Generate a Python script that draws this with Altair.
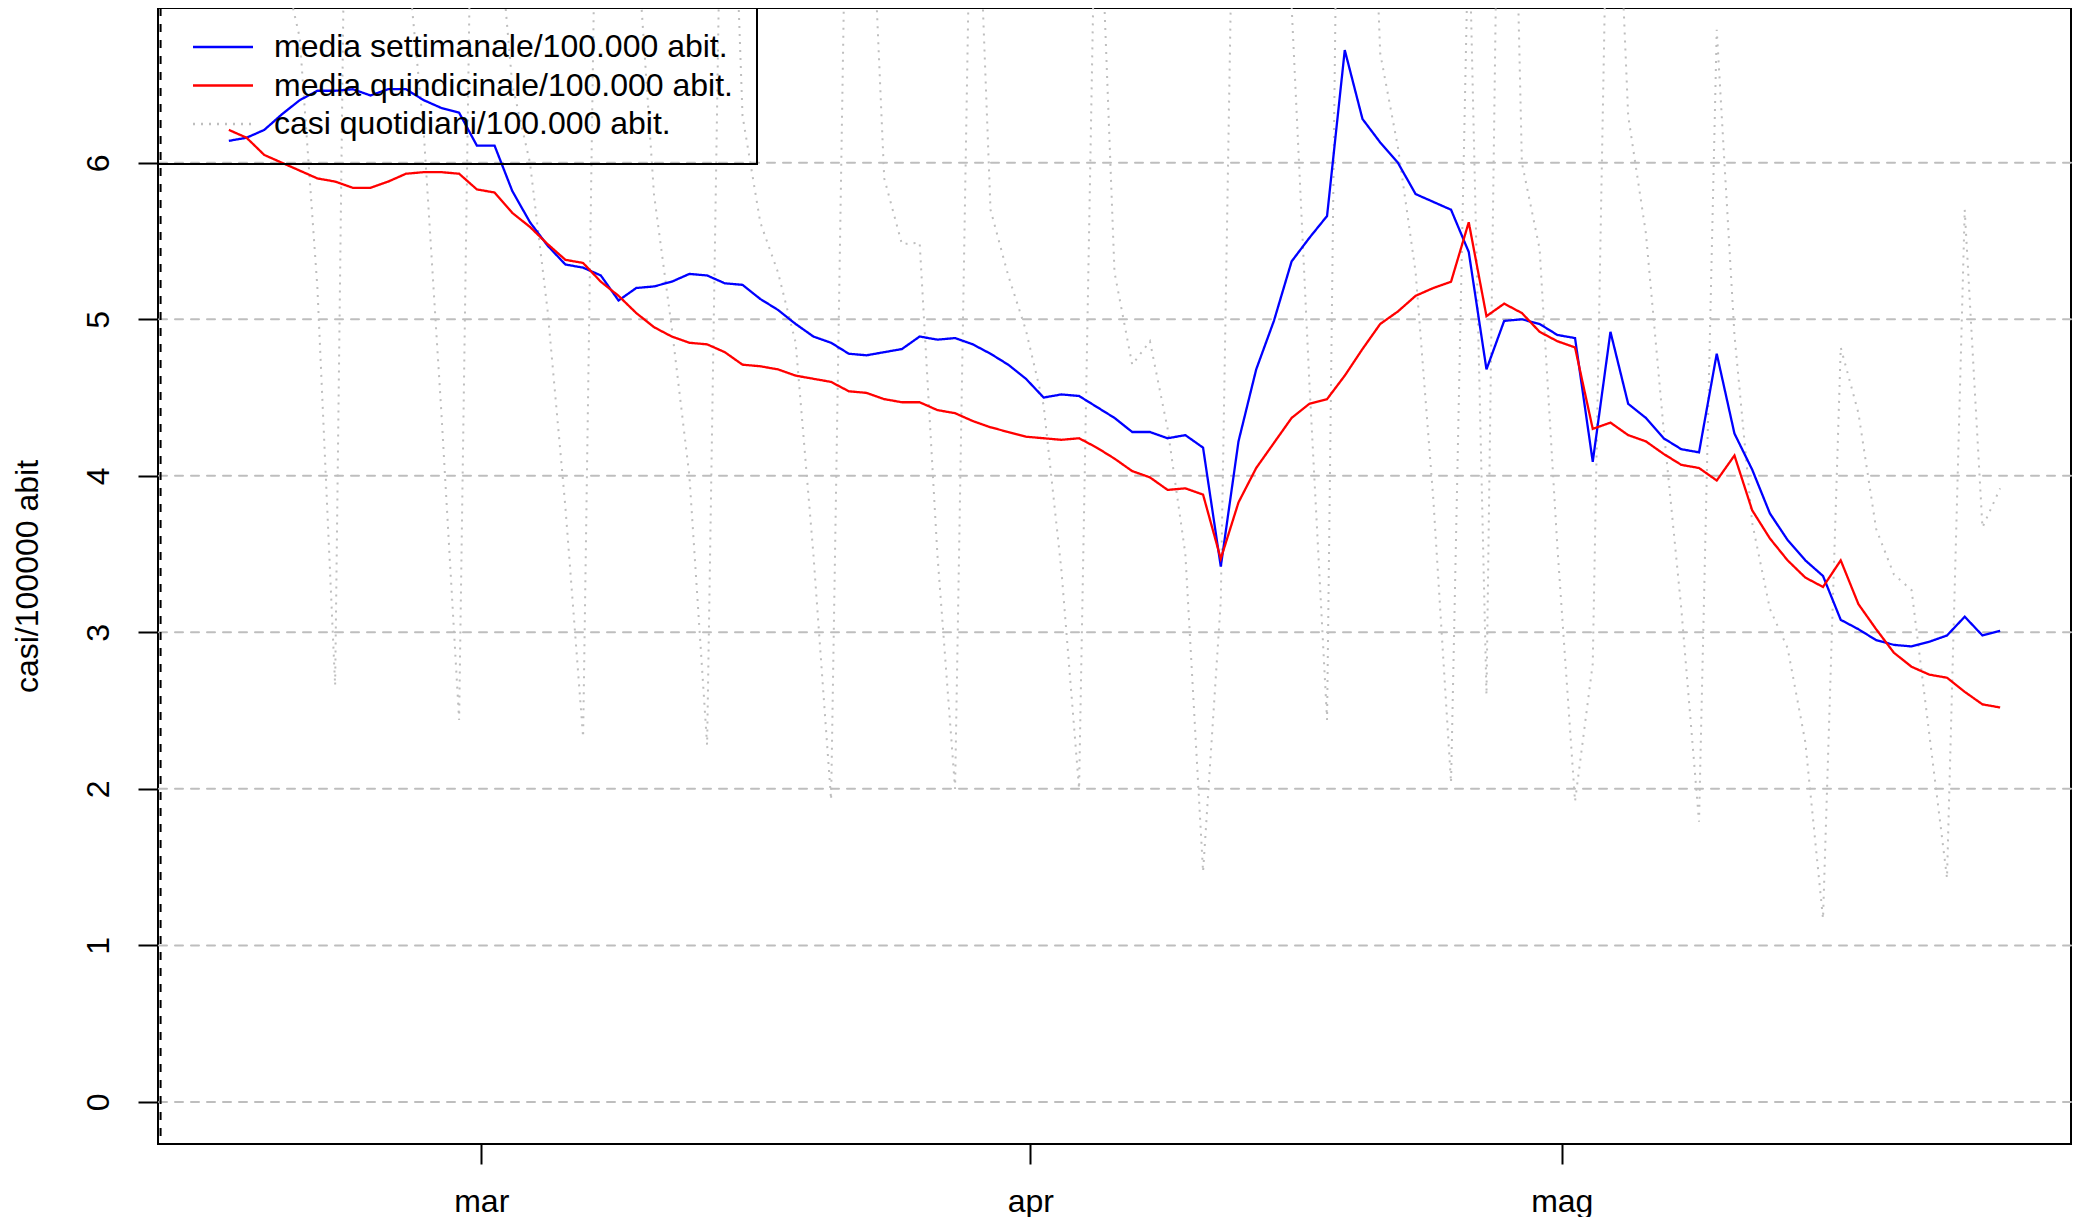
import json
import pandas as pd
import altair as alt

# ---- data ----
# one value per day, from 14 Feb to 25 May (timestamps at 18:00)
inizio = "2021-02-14T18:00"
n_giorni = 101

media_settimanale = [
    6.14, 6.16, 6.21, 6.31, 6.40, 6.46, 6.46, 6.47, 6.43, 6.47, 6.47, 6.40, 6.35, 6.32,
    6.11, 6.11, 5.82, 5.62, 5.47, 5.35, 5.33, 5.28, 5.12, 5.20, 5.21, 5.24, 5.29, 5.28,
    5.23, 5.22, 5.13, 5.06, 4.97, 4.89, 4.85, 4.78, 4.77, 4.79, 4.81, 4.89, 4.87, 4.88,
    4.84, 4.78, 4.71, 4.62, 4.50, 4.52, 4.51, 4.44, 4.37, 4.28, 4.28, 4.24, 4.26, 4.18,
    3.42, 4.22, 4.68, 4.99, 5.37, 5.52, 5.66, 6.72, 6.28, 6.13, 6.00, 5.80, 5.75, 5.70,
    5.43, 4.68, 4.99, 5.00, 4.97, 4.90, 4.88, 4.09, 4.92, 4.46, 4.37, 4.24, 4.17, 4.15,
    4.78, 4.27, 4.04, 3.76, 3.59, 3.46, 3.36, 3.08, 3.02, 2.95, 2.92, 2.91, 2.94, 2.98,
    3.10, 2.98, 3.01,
]
media_quindicinale = [
    6.21, 6.16, 6.05, 6.00, 5.95, 5.90, 5.88, 5.84, 5.84, 5.88, 5.93, 5.94, 5.94, 5.93,
    5.83, 5.81, 5.68, 5.59, 5.48, 5.38, 5.36, 5.24, 5.15, 5.04, 4.95, 4.89, 4.85, 4.84,
    4.79, 4.71, 4.70, 4.68, 4.64, 4.62, 4.60, 4.54, 4.53, 4.49, 4.47, 4.47, 4.42, 4.40,
    4.35, 4.31, 4.28, 4.25, 4.24, 4.23, 4.24, 4.18, 4.11, 4.03, 3.99, 3.91, 3.92, 3.88,
    3.47, 3.83, 4.05, 4.21, 4.37, 4.46, 4.49, 4.64, 4.81, 4.97, 5.05, 5.15, 5.20, 5.24,
    5.62, 5.02, 5.10, 5.04, 4.92, 4.86, 4.82, 4.30, 4.34, 4.26, 4.22, 4.14, 4.07, 4.05,
    3.97, 4.13, 3.78, 3.60, 3.46, 3.35, 3.29, 3.46, 3.18, 3.02, 2.87, 2.78, 2.73, 2.71,
    2.62, 2.54, 2.52,
]
casi_quotidiani = [
    9.0, 10.0, 9.0, 7.3, 6.8, 5.2, 2.66,
    12.0, 10.0, 8.5, 7.4, 6.2, 4.4, 2.44,
    10.3, 7.8, 6.5, 6.0, 5.05, 3.8, 2.33,
    10.1, 9.0, 7.5, 5.8, 4.95, 4.0, 2.28,
    9.5, 6.3, 5.62, 5.3, 4.85, 3.5, 1.93,
    9.0, 8.5, 5.9, 5.48, 5.49, 3.5, 2.0,
    8.7, 5.7, 5.28, 4.93, 4.45, 3.4, 2.0,
    8.3, 5.3, 4.71, 4.86, 4.3, 3.5, 1.47,
    3.2, 10.0, 9.5, 8.5, 7.0, 4.6, 2.44,
    12.0, 9.7, 6.7, 6.1, 5.3, 3.85, 2.04,
    7.6, 2.6, 11.0, 6.0, 5.45, 3.55, 1.92,
    2.8, 9.0, 6.3, 5.55, 4.3, 3.15, 1.79,
    6.85, 4.9, 3.7, 3.15, 2.9, 2.3, 1.17,
    4.82, 4.4, 3.66, 3.37, 3.27, 2.35, 1.43,
    5.7, 3.67, 3.92,
]

serie_nomi = [
    "media settimanale/100.000 abit.",
    "media quindicinale/100.000 abit.",
    "casi quotidiani/100.000 abit.",
]
serie_colori = ["#0000ff", "#ff0000", "#bebebe"]
serie_tratti = [[1, 0], [1, 0], [2, 6]]

griglia_y = [0, 1, 2, 3, 4, 5, 6]
linea_verticale = ["2021-02-10T21:30"]
tick_date = ["2021-03-01T00:00", "2021-04-01T00:00", "2021-05-01T00:00"]
tick_etichette = ["mar", "apr", "mag"]
titolo_y = "casi/100000 abit"

# ---- table ----
date = pd.date_range(inizio, periods=n_giorni, freq="D").strftime("%Y-%m-%dT%H:%M")
righe = []
for nome, valori in zip(serie_nomi, [media_settimanale, media_quindicinale, casi_quotidiani]):
    for d, v in zip(date, valori):
        righe.append({"data": d, "valore": v, "serie": nome})
df = pd.DataFrame(righe)
df_griglia = pd.DataFrame({"y": griglia_y})
df_vert = pd.DataFrame({"data": linea_verticale})

ymax = max(media_settimanale)
y_dom = [-0.04 * ymax, 1.04 * ymax]
# R style 4% expansion of the date range
x_dom = [
    alt.DateTime(year=2021, month=2, date=10, hours=18),
    alt.DateTime(year=2021, month=5, date=29, hours=18),
]

FONT = "Liberation Sans"
mappa = "{" + ",".join(
    "'%s':%s" % (d[:10], json.dumps(e)) for d, e in zip(tick_date, tick_etichette)
) + "}"

x_enc = alt.X(
    "data:T",
    scale=alt.Scale(domain=x_dom),
    axis=alt.Axis(
        values=[alt.DateTime(year=int(t[:4]), month=int(t[5:7]), date=int(t[8:10])) for t in tick_date],
        labelExpr=mappa + "[timeFormat(datum.value, '%Y-%m-%d')]",
        title=None,
        grid=False,
        domain=False,
        tickSize=20,
        tickWidth=2,
        tickColor="black",
        labelFontSize=32,
        labelFont=FONT,
        labelColor="black",
        labelPadding=22,
        labelFlush=False,
        labelOverlap=False,
    ),
)
y_enc = alt.Y(
    "valore:Q",
    scale=alt.Scale(domain=y_dom, nice=False, zero=False),
    axis=alt.Axis(
        values=griglia_y,
        format="d",
        title=titolo_y,
        titleFontSize=32,
        titleFont=FONT,
        titleFontWeight="normal",
        titleColor="black",
        titleAngle=270,
        titleX=-131,
        titleY=568,
        titleAlign="center",
        titleBaseline="middle",
        grid=False,
        domain=False,
        tickSize=20,
        tickWidth=2,
        tickColor="black",
        labelAngle=270,
        labelAlign="center",
        labelBaseline="middle",
        labelPadding=40,
        labelFontSize=32,
        labelFont=FONT,
        labelColor="black",
        labelFlush=False,
        labelOverlap=False,
    ),
)

colore = alt.Color(
    "serie:N",
    scale=alt.Scale(domain=serie_nomi, range=serie_colori),
    legend=alt.Legend(title=None, orient="none", legendX=0, legendY=-1),
)
tratto = alt.StrokeDash(
    "serie:N",
    scale=alt.Scale(domain=serie_nomi, range=serie_tratti),
    legend=alt.Legend(title=None, orient="none", legendX=0, legendY=-1),
)

griglia = alt.Chart(df_griglia).mark_rule(
    color="#bebebe", strokeWidth=2, strokeDash=[8, 8], strokeCap="round"
).encode(y=alt.Y("y:Q", scale=alt.Scale(domain=y_dom, nice=False, zero=False)))

verticale = alt.Chart(df_vert).mark_rule(
    color="black", strokeWidth=2, strokeDash=[8, 8]
).encode(x=alt.X("data:T", scale=alt.Scale(domain=x_dom)))

base = alt.Chart(df).encode(x=x_enc, y=y_enc, color=colore, strokeDash=tratto, order="data:T")

grigio = base.transform_filter(alt.datum.serie == serie_nomi[2]).mark_line(clip=True, strokeWidth=2)
blu = base.transform_filter(alt.datum.serie == serie_nomi[0]).mark_line(clip=True, strokeWidth=2.3)
rosso = base.transform_filter(alt.datum.serie == serie_nomi[1]).mark_line(clip=True, strokeWidth=2.3)

chart = (
    alt.layer(griglia, verticale, grigio, blu, rosso)
    .properties(
        width=1913,
        height=1136,
        autosize=alt.AutoSizeParams(type="none"),
        padding={"left": 150, "top": 0, "right": 2, "bottom": 73},
        background="white",
    )
    .configure_view(stroke="black", strokeWidth=2)
    .configure_legend(
        strokeColor="black",
        strokeWidth=2,
        padding=24,
        symbolType="M-3,0H3",
        symbolSize=400,
        symbolStrokeWidth=2.3,
        symbolOffset=25,
        labelFontSize=32,
        labelFont=FONT,
        labelColor="black",
        labelOffset=35,
        labelLimit=0,
        rowPadding=6.5,
    )
)

chart.save("out.html", embed_options={"renderer": "svg", "actions": False})
